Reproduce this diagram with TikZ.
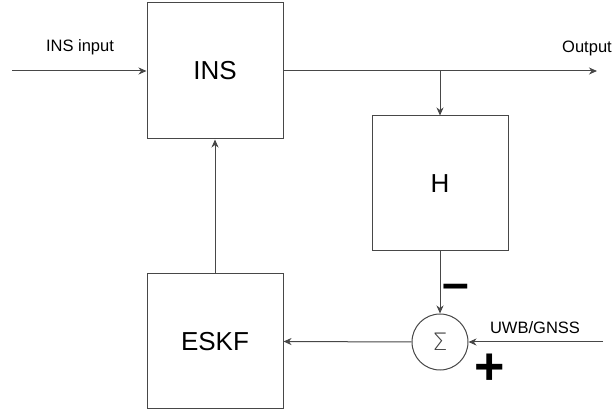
\documentclass[tikz,border=0pt]{standalone}
\usepackage{fontspec}
\setmainfont{Liberation Sans}
\newfontfamily\sigfont{DejaVu Sans ExtraLight}
\usetikzlibrary{arrows.meta}
\begin{document}
\begin{tikzpicture}[x=1pt,y=-1pt,
  blk/.style={draw=black!72, line width=1pt, fill=white, minimum width=136pt, minimum height=136pt, inner sep=0pt, font=\fontsize{26}{30}\selectfont},
  sumnode/.style={draw=black!72, line width=1pt, circle, minimum size=56pt, inner sep=0pt, font=\sigfont\fontsize{24}{26}\selectfont\color{black!75}},
  conn/.style={draw=black!72, line width=1pt, -{Stealth[length=8pt,width=7pt,inset=2.5pt]}},
  lbl/.style={font=\fontsize{16.5}{20}\selectfont, inner sep=0pt},
  sign/.style={font=\fontsize{52}{52}\selectfont\bfseries, inner sep=0pt}
]
\useasboundingbox (0,0) rectangle (614,414);
\node[blk] (ins) at (215,71) {INS};
\node[blk, minimum height=135pt] (h) at (440,183.5) {H};
\node[blk, minimum height=135pt] (eskf) at (215,341.5) {ESKF};
\node[sumnode] (sum) at (440,342) {Σ};
\coordinate (in) at (12,71);
\coordinate (out) at (597,71);
\coordinate (j) at (440,71);
\coordinate (uwb) at (603,342);
\draw[conn] (in) -- (ins.west);
\draw[conn] (ins.east) -- (out);
\draw[conn] (j) -- (h.north);
\draw[conn] (h.south) -- (sum.north);
\draw[conn] (uwb) -- (sum.east);
\draw[conn] (sum.west) -- (eskf.east);
\draw[conn] (eskf.north) -- (ins.south);
\node[lbl] (linput) at (80,47) {INS input};
\node[lbl] (lout) at (587,48) {Output};
\node[lbl] (luwb) at (535,328) {UWB/GNSS};
\node[sign, font=\fontsize{48}{48}\selectfont\bfseries] (minus) at (456,292) {–};
\node[sign] (plus) at (490,369) {+};
\end{tikzpicture}
\end{document}
